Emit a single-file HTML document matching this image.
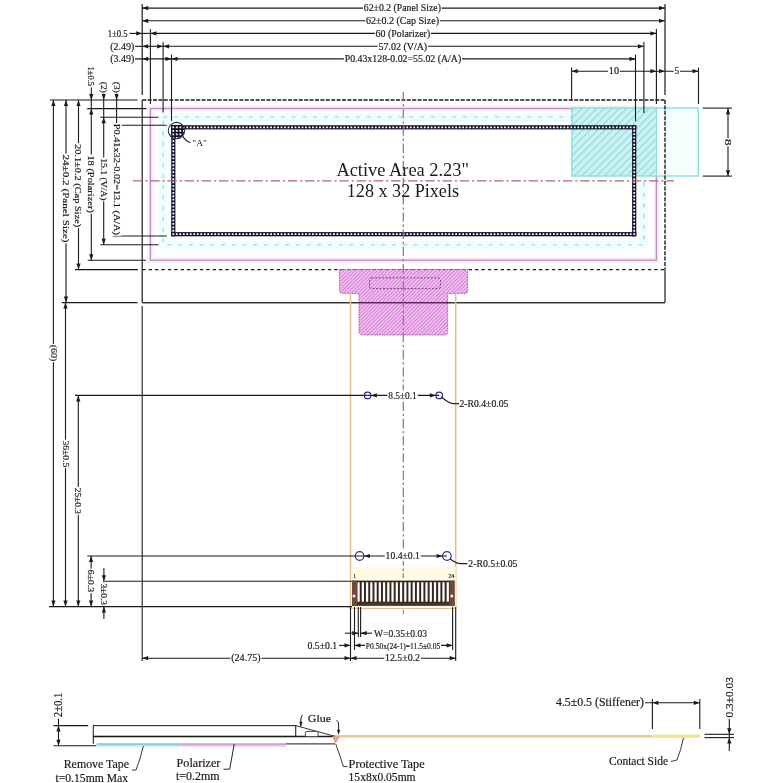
<!DOCTYPE html>
<html><head><meta charset="utf-8"><style>
html,body{margin:0;padding:0;background:#fff;width:783px;height:783px;overflow:hidden;font-family:"Liberation Serif",serif;}
svg{display:block;filter:blur(0.35px);}
</style></head><body>
<svg width="783" height="783" viewBox="0 0 783 783">
<defs>
<pattern id="hatchC" patternUnits="userSpaceOnUse" width="5.3" height="5.3" patternTransform="rotate(45)">
  <rect width="5.3" height="5.3" fill="#c4f4f4"/>
  <line x1="0" y1="0" x2="0" y2="5.3" stroke="#6aa6a6" stroke-width="0.9"/>
</pattern>
<pattern id="hatchM" patternUnits="userSpaceOnUse" width="2.6" height="2.6" patternTransform="rotate(45)">
  <rect width="2.6" height="2.6" fill="#f6bcf6"/>
  <line x1="0" y1="0" x2="0" y2="2.6" stroke="#a444a4" stroke-width="0.9"/>
</pattern>
<pattern id="dotsH" patternUnits="userSpaceOnUse" width="3.5" height="4.2" x="171.2" y="125.2">
  <rect width="3.5" height="4.2" fill="#15153a"/>
  <rect x="1.2" y="1.4" width="1.3" height="1.4" fill="#fff"/>
</pattern>
<pattern id="dotsV" patternUnits="userSpaceOnUse" width="4.2" height="3.5" x="171.2" y="125.2">
  <rect width="4.2" height="3.5" fill="#15153a"/>
  <rect x="1.4" y="1.2" width="1.4" height="1.3" fill="#fff"/>
</pattern>
<pattern id="dotsG" patternUnits="userSpaceOnUse" width="3.5" height="3.5" x="171.2" y="125.2">
  <rect width="3.5" height="3.5" fill="#15153a"/>
  <rect x="1.2" y="1.2" width="1.3" height="1.3" fill="#fff"/>
</pattern>
</defs><rect width="783" height="783" fill="#fff"/><rect x="150.4" y="108.5" width="506.0" height="151.7" fill="none" stroke="#fdeefd" stroke-width="6"/>
<rect x="163.2" y="117" width="480.7" height="127.69999999999999" fill="none" stroke="#effdfd" stroke-width="8"/>
<rect x="150.4" y="108.5" width="506.0" height="151.7" fill="none" stroke="#bb90bb" stroke-width="1.4"/>
<rect x="163.2" y="117" width="480.7" height="127.69999999999999" fill="none" stroke="#9ccfcf" stroke-width="1.1" stroke-dasharray="4 6.7"/>
<rect x="571.8" y="108.0" width="84.70000000000005" height="68.0" stroke="none" fill="url(#hatchC)" stroke-width="1" />
<rect x="656.5" y="108.0" width="41.700000000000045" height="68.0" stroke="none" fill="#f6fdfd" stroke-width="1" />
<rect x="571.8" y="108.0" width="126.40000000000009" height="68.0" fill="none" stroke="#86e2e2" stroke-width="1.4"/>
<line x1="656.5" y1="108" x2="656.5" y2="176" stroke="#8ee0e0" stroke-width="1.1" />
<rect x="171.2" y="125.2" width="465.09999999999997" height="4.2" stroke="none" fill="#121230" stroke-width="1" />
<rect x="171.2" y="232.10000000000002" width="465.09999999999997" height="4.2" stroke="none" fill="#121230" stroke-width="1" />
<rect x="171.2" y="125.2" width="4.2" height="111.10000000000001" stroke="none" fill="#121230" stroke-width="1" />
<rect x="632.0999999999999" y="125.2" width="4.2" height="111.10000000000001" stroke="none" fill="#121230" stroke-width="1" />
<path d="M172.40,126.40h1.8v1.8h-1.8zM172.40,233.30h1.8v1.8h-1.8zM175.89,126.40h1.8v1.8h-1.8zM175.89,233.30h1.8v1.8h-1.8zM179.38,126.40h1.8v1.8h-1.8zM179.38,233.30h1.8v1.8h-1.8zM182.87,126.40h1.8v1.8h-1.8zM182.87,233.30h1.8v1.8h-1.8zM186.37,126.40h1.8v1.8h-1.8zM186.37,233.30h1.8v1.8h-1.8zM189.86,126.40h1.8v1.8h-1.8zM189.86,233.30h1.8v1.8h-1.8zM193.35,126.40h1.8v1.8h-1.8zM193.35,233.30h1.8v1.8h-1.8zM196.84,126.40h1.8v1.8h-1.8zM196.84,233.30h1.8v1.8h-1.8zM200.33,126.40h1.8v1.8h-1.8zM200.33,233.30h1.8v1.8h-1.8zM203.82,126.40h1.8v1.8h-1.8zM203.82,233.30h1.8v1.8h-1.8zM207.32,126.40h1.8v1.8h-1.8zM207.32,233.30h1.8v1.8h-1.8zM210.81,126.40h1.8v1.8h-1.8zM210.81,233.30h1.8v1.8h-1.8zM214.30,126.40h1.8v1.8h-1.8zM214.30,233.30h1.8v1.8h-1.8zM217.79,126.40h1.8v1.8h-1.8zM217.79,233.30h1.8v1.8h-1.8zM221.28,126.40h1.8v1.8h-1.8zM221.28,233.30h1.8v1.8h-1.8zM224.77,126.40h1.8v1.8h-1.8zM224.77,233.30h1.8v1.8h-1.8zM228.27,126.40h1.8v1.8h-1.8zM228.27,233.30h1.8v1.8h-1.8zM231.76,126.40h1.8v1.8h-1.8zM231.76,233.30h1.8v1.8h-1.8zM235.25,126.40h1.8v1.8h-1.8zM235.25,233.30h1.8v1.8h-1.8zM238.74,126.40h1.8v1.8h-1.8zM238.74,233.30h1.8v1.8h-1.8zM242.23,126.40h1.8v1.8h-1.8zM242.23,233.30h1.8v1.8h-1.8zM245.72,126.40h1.8v1.8h-1.8zM245.72,233.30h1.8v1.8h-1.8zM249.22,126.40h1.8v1.8h-1.8zM249.22,233.30h1.8v1.8h-1.8zM252.71,126.40h1.8v1.8h-1.8zM252.71,233.30h1.8v1.8h-1.8zM256.20,126.40h1.8v1.8h-1.8zM256.20,233.30h1.8v1.8h-1.8zM259.69,126.40h1.8v1.8h-1.8zM259.69,233.30h1.8v1.8h-1.8zM263.18,126.40h1.8v1.8h-1.8zM263.18,233.30h1.8v1.8h-1.8zM266.68,126.40h1.8v1.8h-1.8zM266.68,233.30h1.8v1.8h-1.8zM270.17,126.40h1.8v1.8h-1.8zM270.17,233.30h1.8v1.8h-1.8zM273.66,126.40h1.8v1.8h-1.8zM273.66,233.30h1.8v1.8h-1.8zM277.15,126.40h1.8v1.8h-1.8zM277.15,233.30h1.8v1.8h-1.8zM280.64,126.40h1.8v1.8h-1.8zM280.64,233.30h1.8v1.8h-1.8zM284.13,126.40h1.8v1.8h-1.8zM284.13,233.30h1.8v1.8h-1.8zM287.62,126.40h1.8v1.8h-1.8zM287.62,233.30h1.8v1.8h-1.8zM291.12,126.40h1.8v1.8h-1.8zM291.12,233.30h1.8v1.8h-1.8zM294.61,126.40h1.8v1.8h-1.8zM294.61,233.30h1.8v1.8h-1.8zM298.10,126.40h1.8v1.8h-1.8zM298.10,233.30h1.8v1.8h-1.8zM301.59,126.40h1.8v1.8h-1.8zM301.59,233.30h1.8v1.8h-1.8zM305.08,126.40h1.8v1.8h-1.8zM305.08,233.30h1.8v1.8h-1.8zM308.58,126.40h1.8v1.8h-1.8zM308.58,233.30h1.8v1.8h-1.8zM312.07,126.40h1.8v1.8h-1.8zM312.07,233.30h1.8v1.8h-1.8zM315.56,126.40h1.8v1.8h-1.8zM315.56,233.30h1.8v1.8h-1.8zM319.05,126.40h1.8v1.8h-1.8zM319.05,233.30h1.8v1.8h-1.8zM322.54,126.40h1.8v1.8h-1.8zM322.54,233.30h1.8v1.8h-1.8zM326.03,126.40h1.8v1.8h-1.8zM326.03,233.30h1.8v1.8h-1.8zM329.52,126.40h1.8v1.8h-1.8zM329.52,233.30h1.8v1.8h-1.8zM333.02,126.40h1.8v1.8h-1.8zM333.02,233.30h1.8v1.8h-1.8zM336.51,126.40h1.8v1.8h-1.8zM336.51,233.30h1.8v1.8h-1.8zM340.00,126.40h1.8v1.8h-1.8zM340.00,233.30h1.8v1.8h-1.8zM343.49,126.40h1.8v1.8h-1.8zM343.49,233.30h1.8v1.8h-1.8zM346.98,126.40h1.8v1.8h-1.8zM346.98,233.30h1.8v1.8h-1.8zM350.48,126.40h1.8v1.8h-1.8zM350.48,233.30h1.8v1.8h-1.8zM353.97,126.40h1.8v1.8h-1.8zM353.97,233.30h1.8v1.8h-1.8zM357.46,126.40h1.8v1.8h-1.8zM357.46,233.30h1.8v1.8h-1.8zM360.95,126.40h1.8v1.8h-1.8zM360.95,233.30h1.8v1.8h-1.8zM364.44,126.40h1.8v1.8h-1.8zM364.44,233.30h1.8v1.8h-1.8zM367.93,126.40h1.8v1.8h-1.8zM367.93,233.30h1.8v1.8h-1.8zM371.43,126.40h1.8v1.8h-1.8zM371.43,233.30h1.8v1.8h-1.8zM374.92,126.40h1.8v1.8h-1.8zM374.92,233.30h1.8v1.8h-1.8zM378.41,126.40h1.8v1.8h-1.8zM378.41,233.30h1.8v1.8h-1.8zM381.90,126.40h1.8v1.8h-1.8zM381.90,233.30h1.8v1.8h-1.8zM385.39,126.40h1.8v1.8h-1.8zM385.39,233.30h1.8v1.8h-1.8zM388.88,126.40h1.8v1.8h-1.8zM388.88,233.30h1.8v1.8h-1.8zM392.38,126.40h1.8v1.8h-1.8zM392.38,233.30h1.8v1.8h-1.8zM395.87,126.40h1.8v1.8h-1.8zM395.87,233.30h1.8v1.8h-1.8zM399.36,126.40h1.8v1.8h-1.8zM399.36,233.30h1.8v1.8h-1.8zM402.85,126.40h1.8v1.8h-1.8zM402.85,233.30h1.8v1.8h-1.8zM406.34,126.40h1.8v1.8h-1.8zM406.34,233.30h1.8v1.8h-1.8zM409.83,126.40h1.8v1.8h-1.8zM409.83,233.30h1.8v1.8h-1.8zM413.33,126.40h1.8v1.8h-1.8zM413.33,233.30h1.8v1.8h-1.8zM416.82,126.40h1.8v1.8h-1.8zM416.82,233.30h1.8v1.8h-1.8zM420.31,126.40h1.8v1.8h-1.8zM420.31,233.30h1.8v1.8h-1.8zM423.80,126.40h1.8v1.8h-1.8zM423.80,233.30h1.8v1.8h-1.8zM427.29,126.40h1.8v1.8h-1.8zM427.29,233.30h1.8v1.8h-1.8zM430.78,126.40h1.8v1.8h-1.8zM430.78,233.30h1.8v1.8h-1.8zM434.27,126.40h1.8v1.8h-1.8zM434.27,233.30h1.8v1.8h-1.8zM437.77,126.40h1.8v1.8h-1.8zM437.77,233.30h1.8v1.8h-1.8zM441.26,126.40h1.8v1.8h-1.8zM441.26,233.30h1.8v1.8h-1.8zM444.75,126.40h1.8v1.8h-1.8zM444.75,233.30h1.8v1.8h-1.8zM448.24,126.40h1.8v1.8h-1.8zM448.24,233.30h1.8v1.8h-1.8zM451.73,126.40h1.8v1.8h-1.8zM451.73,233.30h1.8v1.8h-1.8zM455.23,126.40h1.8v1.8h-1.8zM455.23,233.30h1.8v1.8h-1.8zM458.72,126.40h1.8v1.8h-1.8zM458.72,233.30h1.8v1.8h-1.8zM462.21,126.40h1.8v1.8h-1.8zM462.21,233.30h1.8v1.8h-1.8zM465.70,126.40h1.8v1.8h-1.8zM465.70,233.30h1.8v1.8h-1.8zM469.19,126.40h1.8v1.8h-1.8zM469.19,233.30h1.8v1.8h-1.8zM472.68,126.40h1.8v1.8h-1.8zM472.68,233.30h1.8v1.8h-1.8zM476.17,126.40h1.8v1.8h-1.8zM476.17,233.30h1.8v1.8h-1.8zM479.67,126.40h1.8v1.8h-1.8zM479.67,233.30h1.8v1.8h-1.8zM483.16,126.40h1.8v1.8h-1.8zM483.16,233.30h1.8v1.8h-1.8zM486.65,126.40h1.8v1.8h-1.8zM486.65,233.30h1.8v1.8h-1.8zM490.14,126.40h1.8v1.8h-1.8zM490.14,233.30h1.8v1.8h-1.8zM493.63,126.40h1.8v1.8h-1.8zM493.63,233.30h1.8v1.8h-1.8zM497.12,126.40h1.8v1.8h-1.8zM497.12,233.30h1.8v1.8h-1.8zM500.62,126.40h1.8v1.8h-1.8zM500.62,233.30h1.8v1.8h-1.8zM504.11,126.40h1.8v1.8h-1.8zM504.11,233.30h1.8v1.8h-1.8zM507.60,126.40h1.8v1.8h-1.8zM507.60,233.30h1.8v1.8h-1.8zM511.09,126.40h1.8v1.8h-1.8zM511.09,233.30h1.8v1.8h-1.8zM514.58,126.40h1.8v1.8h-1.8zM514.58,233.30h1.8v1.8h-1.8zM518.08,126.40h1.8v1.8h-1.8zM518.08,233.30h1.8v1.8h-1.8zM521.57,126.40h1.8v1.8h-1.8zM521.57,233.30h1.8v1.8h-1.8zM525.06,126.40h1.8v1.8h-1.8zM525.06,233.30h1.8v1.8h-1.8zM528.55,126.40h1.8v1.8h-1.8zM528.55,233.30h1.8v1.8h-1.8zM532.04,126.40h1.8v1.8h-1.8zM532.04,233.30h1.8v1.8h-1.8zM535.53,126.40h1.8v1.8h-1.8zM535.53,233.30h1.8v1.8h-1.8zM539.02,126.40h1.8v1.8h-1.8zM539.02,233.30h1.8v1.8h-1.8zM542.52,126.40h1.8v1.8h-1.8zM542.52,233.30h1.8v1.8h-1.8zM546.01,126.40h1.8v1.8h-1.8zM546.01,233.30h1.8v1.8h-1.8zM549.50,126.40h1.8v1.8h-1.8zM549.50,233.30h1.8v1.8h-1.8zM552.99,126.40h1.8v1.8h-1.8zM552.99,233.30h1.8v1.8h-1.8zM556.48,126.40h1.8v1.8h-1.8zM556.48,233.30h1.8v1.8h-1.8zM559.98,126.40h1.8v1.8h-1.8zM559.98,233.30h1.8v1.8h-1.8zM563.47,126.40h1.8v1.8h-1.8zM563.47,233.30h1.8v1.8h-1.8zM566.96,126.40h1.8v1.8h-1.8zM566.96,233.30h1.8v1.8h-1.8zM570.45,126.40h1.8v1.8h-1.8zM570.45,233.30h1.8v1.8h-1.8zM573.94,126.40h1.8v1.8h-1.8zM573.94,233.30h1.8v1.8h-1.8zM577.43,126.40h1.8v1.8h-1.8zM577.43,233.30h1.8v1.8h-1.8zM580.92,126.40h1.8v1.8h-1.8zM580.92,233.30h1.8v1.8h-1.8zM584.42,126.40h1.8v1.8h-1.8zM584.42,233.30h1.8v1.8h-1.8zM587.91,126.40h1.8v1.8h-1.8zM587.91,233.30h1.8v1.8h-1.8zM591.40,126.40h1.8v1.8h-1.8zM591.40,233.30h1.8v1.8h-1.8zM594.89,126.40h1.8v1.8h-1.8zM594.89,233.30h1.8v1.8h-1.8zM598.38,126.40h1.8v1.8h-1.8zM598.38,233.30h1.8v1.8h-1.8zM601.88,126.40h1.8v1.8h-1.8zM601.88,233.30h1.8v1.8h-1.8zM605.37,126.40h1.8v1.8h-1.8zM605.37,233.30h1.8v1.8h-1.8zM608.86,126.40h1.8v1.8h-1.8zM608.86,233.30h1.8v1.8h-1.8zM612.35,126.40h1.8v1.8h-1.8zM612.35,233.30h1.8v1.8h-1.8zM615.84,126.40h1.8v1.8h-1.8zM615.84,233.30h1.8v1.8h-1.8zM619.33,126.40h1.8v1.8h-1.8zM619.33,233.30h1.8v1.8h-1.8zM622.83,126.40h1.8v1.8h-1.8zM622.83,233.30h1.8v1.8h-1.8zM626.32,126.40h1.8v1.8h-1.8zM626.32,233.30h1.8v1.8h-1.8zM629.81,126.40h1.8v1.8h-1.8zM629.81,233.30h1.8v1.8h-1.8zM633.30,126.40h1.8v1.8h-1.8zM633.30,233.30h1.8v1.8h-1.8zM172.40,129.85h1.8v1.8h-1.8zM633.30,129.85h1.8v1.8h-1.8zM172.40,133.30h1.8v1.8h-1.8zM633.30,133.30h1.8v1.8h-1.8zM172.40,136.75h1.8v1.8h-1.8zM633.30,136.75h1.8v1.8h-1.8zM172.40,140.19h1.8v1.8h-1.8zM633.30,140.19h1.8v1.8h-1.8zM172.40,143.64h1.8v1.8h-1.8zM633.30,143.64h1.8v1.8h-1.8zM172.40,147.09h1.8v1.8h-1.8zM633.30,147.09h1.8v1.8h-1.8zM172.40,150.54h1.8v1.8h-1.8zM633.30,150.54h1.8v1.8h-1.8zM172.40,153.99h1.8v1.8h-1.8zM633.30,153.99h1.8v1.8h-1.8zM172.40,157.44h1.8v1.8h-1.8zM633.30,157.44h1.8v1.8h-1.8zM172.40,160.88h1.8v1.8h-1.8zM633.30,160.88h1.8v1.8h-1.8zM172.40,164.33h1.8v1.8h-1.8zM633.30,164.33h1.8v1.8h-1.8zM172.40,167.78h1.8v1.8h-1.8zM633.30,167.78h1.8v1.8h-1.8zM172.40,171.23h1.8v1.8h-1.8zM633.30,171.23h1.8v1.8h-1.8zM172.40,174.68h1.8v1.8h-1.8zM633.30,174.68h1.8v1.8h-1.8zM172.40,178.13h1.8v1.8h-1.8zM633.30,178.13h1.8v1.8h-1.8zM172.40,181.57h1.8v1.8h-1.8zM633.30,181.57h1.8v1.8h-1.8zM172.40,185.02h1.8v1.8h-1.8zM633.30,185.02h1.8v1.8h-1.8zM172.40,188.47h1.8v1.8h-1.8zM633.30,188.47h1.8v1.8h-1.8zM172.40,191.92h1.8v1.8h-1.8zM633.30,191.92h1.8v1.8h-1.8zM172.40,195.37h1.8v1.8h-1.8zM633.30,195.37h1.8v1.8h-1.8zM172.40,198.82h1.8v1.8h-1.8zM633.30,198.82h1.8v1.8h-1.8zM172.40,202.26h1.8v1.8h-1.8zM633.30,202.26h1.8v1.8h-1.8zM172.40,205.71h1.8v1.8h-1.8zM633.30,205.71h1.8v1.8h-1.8zM172.40,209.16h1.8v1.8h-1.8zM633.30,209.16h1.8v1.8h-1.8zM172.40,212.61h1.8v1.8h-1.8zM633.30,212.61h1.8v1.8h-1.8zM172.40,216.06h1.8v1.8h-1.8zM633.30,216.06h1.8v1.8h-1.8zM172.40,219.51h1.8v1.8h-1.8zM633.30,219.51h1.8v1.8h-1.8zM172.40,222.95h1.8v1.8h-1.8zM633.30,222.95h1.8v1.8h-1.8zM172.40,226.40h1.8v1.8h-1.8zM633.30,226.40h1.8v1.8h-1.8zM172.40,229.85h1.8v1.8h-1.8zM633.30,229.85h1.8v1.8h-1.8z" fill="#fff"/>
<clipPath id="cA"><circle cx="176.5" cy="130.6" r="8"/></clipPath>
<g clip-path="url(#cA)"><rect x="171.2" y="125.2" width="16" height="16" fill="#121230"/><path d="M172.40,126.40h1.8v1.8h-1.8zM172.40,129.90h1.8v1.8h-1.8zM172.40,133.40h1.8v1.8h-1.8zM172.40,136.90h1.8v1.8h-1.8zM172.40,140.40h1.8v1.8h-1.8zM175.90,126.40h1.8v1.8h-1.8zM175.90,129.90h1.8v1.8h-1.8zM175.90,133.40h1.8v1.8h-1.8zM175.90,136.90h1.8v1.8h-1.8zM175.90,140.40h1.8v1.8h-1.8zM179.40,126.40h1.8v1.8h-1.8zM179.40,129.90h1.8v1.8h-1.8zM179.40,133.40h1.8v1.8h-1.8zM179.40,136.90h1.8v1.8h-1.8zM179.40,140.40h1.8v1.8h-1.8zM182.90,126.40h1.8v1.8h-1.8zM182.90,129.90h1.8v1.8h-1.8zM182.90,133.40h1.8v1.8h-1.8zM182.90,136.90h1.8v1.8h-1.8zM182.90,140.40h1.8v1.8h-1.8zM186.40,126.40h1.8v1.8h-1.8zM186.40,129.90h1.8v1.8h-1.8zM186.40,133.40h1.8v1.8h-1.8zM186.40,136.90h1.8v1.8h-1.8zM186.40,140.40h1.8v1.8h-1.8z" fill="#fff"/></g>
<circle cx="176.5" cy="130.6" r="8.2" fill="none" stroke="#2a2a5a" stroke-width="1.1"/>
<path d="M182.8,136.4 Q186,141.3 190.5,142.8" fill="none" stroke="#222" stroke-width="1.1"/>
<text x="192.3" y="145.5" font-family="Liberation Serif" font-size="8.5" fill="#1a1a1a" stroke="#1a1a1a" stroke-width="0" text-anchor="start" textLength="14.5" lengthAdjust="spacingAndGlyphs" >"A"</text>
<line x1="142.2" y1="100" x2="142.2" y2="302.6" stroke="#1a1a1a" stroke-width="1.2" />
<line x1="142.2" y1="302.6" x2="665" y2="302.6" stroke="#1a1a1a" stroke-width="1.2" />
<line x1="665" y1="269.6" x2="665" y2="302.6" stroke="#1a1a1a" stroke-width="1.2" />
<line x1="142.2" y1="100" x2="665" y2="100" stroke="#1a1a1a" stroke-width="1.4" stroke-dasharray="4 1.4"/>
<line x1="665" y1="100" x2="665" y2="269.6" stroke="#1a1a1a" stroke-width="1.4" stroke-dasharray="4 1.4"/>
<line x1="142.2" y1="269.6" x2="665" y2="269.6" stroke="#1a1a1a" stroke-width="1.3" stroke-dasharray="3.4 3"/>
<path d="M339.5,269.6 L467.6,269.6 L467.6,290.5 Q467.6,293.4 464.5,293.4 L447.7,293.4 L447.7,331.5 Q447.7,335 444,335 L362.5,335 Q359,335 359,331.5 L359,293.4 L342.5,293.4 Q339.5,293.4 339.5,290.5 Z" fill="url(#hatchM)" stroke="#9a3a9a" stroke-width="0.8" stroke-dasharray="1.5 1"/>
<rect x="369.5" y="277.8" width="71" height="10.8" rx="2" fill="none" stroke="#6a2a6a" stroke-width="0.8" stroke-dasharray="2 1.5"/>
<line x1="142.2" y1="302.6" x2="665" y2="302.6" stroke="#333" stroke-width="1.1" />
<line x1="359" y1="302.6" x2="447.7" y2="302.6" stroke="#5a255a" stroke-width="1.3" />
<line x1="350.5" y1="293.4" x2="350.5" y2="608.5" stroke="#e4bf8e" stroke-width="1.5" />
<line x1="455.7" y1="293.4" x2="455.7" y2="608.5" stroke="#e4bf8e" stroke-width="1.5" />
<rect x="351.2" y="567" width="104.5" height="41.5" stroke="none" fill="#fffbe2" stroke-width="1" />
<line x1="350.5" y1="608.5" x2="455.7" y2="608.5" stroke="#e4bf8e" stroke-width="1" />
<line x1="403.3" y1="92" x2="403.3" y2="578" stroke="#b06672" stroke-width="1.2" stroke-dasharray="9.4 2.8 2.3 2.7"/>
<line x1="403.3" y1="609.5" x2="403.3" y2="614.5" stroke="#b06672" stroke-width="0.9" />
<line x1="133" y1="180.8" x2="674" y2="180.8" stroke="#b06672" stroke-width="1.2" stroke-dasharray="9.4 2.8 2.3 2.7"/>
<text x="336.4" y="176.3" font-family="Liberation Serif" font-size="18.2" fill="#1a1a1a" stroke="#1a1a1a" stroke-width="0" text-anchor="start" textLength="132.6" lengthAdjust="spacingAndGlyphs" >Active Area 2.23"</text>
<text x="346.8" y="197" font-family="Liberation Serif" font-size="18.2" fill="#1a1a1a" stroke="#1a1a1a" stroke-width="0" text-anchor="start" textLength="112.2" lengthAdjust="spacingAndGlyphs" >128 x 32 Pixels</text>
<rect x="352" y="580.6" width="102.5" height="25.0" stroke="none" fill="#33241d" stroke-width="1" />
<path d="M357.45,582.2h2.3v19.10q-1.15,1.2 -2.3,0zM361.70,582.2h2.3v19.10q-1.15,1.2 -2.3,0zM365.94,582.2h2.3v19.10q-1.15,1.2 -2.3,0zM370.19,582.2h2.3v19.10q-1.15,1.2 -2.3,0zM374.43,582.2h2.3v19.10q-1.15,1.2 -2.3,0zM378.68,582.2h2.3v19.10q-1.15,1.2 -2.3,0zM382.92,582.2h2.3v19.10q-1.15,1.2 -2.3,0zM387.17,582.2h2.3v19.10q-1.15,1.2 -2.3,0zM391.41,582.2h2.3v19.10q-1.15,1.2 -2.3,0zM395.66,582.2h2.3v19.10q-1.15,1.2 -2.3,0zM399.90,582.2h2.3v19.10q-1.15,1.2 -2.3,0zM404.15,582.2h2.3v19.10q-1.15,1.2 -2.3,0zM408.39,582.2h2.3v19.10q-1.15,1.2 -2.3,0zM412.64,582.2h2.3v19.10q-1.15,1.2 -2.3,0zM416.88,582.2h2.3v19.10q-1.15,1.2 -2.3,0zM421.13,582.2h2.3v19.10q-1.15,1.2 -2.3,0zM425.37,582.2h2.3v19.10q-1.15,1.2 -2.3,0zM429.62,582.2h2.3v19.10q-1.15,1.2 -2.3,0zM433.86,582.2h2.3v19.10q-1.15,1.2 -2.3,0zM438.11,582.2h2.3v19.10q-1.15,1.2 -2.3,0zM442.35,582.2h2.3v19.10q-1.15,1.2 -2.3,0zM446.60,582.2h2.3v19.10q-1.15,1.2 -2.3,0z" fill="#fbfbfb"/>
<rect x="352" y="602.3000000000001" width="102.5" height="3.3" stroke="none" fill="#4a3126" stroke-width="1" />
<rect x="352" y="580.6" width="5" height="25.0" stroke="none" fill="#6e4a3a" stroke-width="1" />
<rect x="449.5" y="580.6" width="5" height="25.0" stroke="none" fill="#6e4a3a" stroke-width="1" />
<circle cx="354" cy="596" r="1.5" fill="#f4eee8"/>
<circle cx="451.8" cy="596" r="1.5" fill="#f4eee8"/>
<text x="353.3" y="578" font-family="Liberation Serif" font-size="5.5" fill="#1a1a1a" stroke="#1a1a1a" stroke-width="0.18" text-anchor="start" textLength="2.5" lengthAdjust="spacingAndGlyphs" >1</text>
<text x="448.5" y="578" font-family="Liberation Serif" font-size="5.5" fill="#1a1a1a" stroke="#1a1a1a" stroke-width="0.18" text-anchor="start" textLength="6" lengthAdjust="spacingAndGlyphs" >24</text>
<line x1="142.2" y1="4" x2="142.2" y2="95" stroke="#1a1a1a" stroke-width="1.2" />
<line x1="150.4" y1="29" x2="150.4" y2="104" stroke="#1a1a1a" stroke-width="1.1" />
<line x1="163.1" y1="41.9" x2="163.1" y2="112.5" stroke="#1a1a1a" stroke-width="1.1" />
<line x1="171.5" y1="54.6" x2="171.5" y2="120.8" stroke="#1a1a1a" stroke-width="1.1" />
<line x1="665" y1="4" x2="665" y2="95" stroke="#1a1a1a" stroke-width="1.2" />
<line x1="656.4" y1="29" x2="656.4" y2="104" stroke="#1a1a1a" stroke-width="1.1" />
<line x1="643.9" y1="41.9" x2="643.9" y2="113" stroke="#1a1a1a" stroke-width="1.1" />
<line x1="635.5" y1="54.6" x2="635.5" y2="121" stroke="#1a1a1a" stroke-width="1.1" />
<line x1="142.2" y1="8.1" x2="665" y2="8.1" stroke="#1a1a1a" stroke-width="1.1" />
<polygon points="142.2,8.1 148.2,6.0 148.2,10.2" fill="#1a1a1a"/>
<polygon points="665.0,8.1 659.0,6.0 659.0,10.2" fill="#1a1a1a"/>
<rect x="363.0" y="3.0999999999999996" width="78.69999999999996" height="10" fill="#fff"/>
<text x="363.8" y="11.3" font-family="Liberation Serif" font-size="9.5" fill="#1a1a1a" stroke="#1a1a1a" stroke-width="0.18" text-anchor="start" textLength="77.1" lengthAdjust="spacingAndGlyphs" >62±0.2 (Panel Size)</text>
<line x1="142.2" y1="20.8" x2="665" y2="20.8" stroke="#1a1a1a" stroke-width="1.1" />
<polygon points="142.2,20.8 148.2,18.7 148.2,22.9" fill="#1a1a1a"/>
<polygon points="665.0,20.8 659.0,18.7 659.0,22.9" fill="#1a1a1a"/>
<rect x="365.2" y="15.8" width="74.6" height="10" fill="#fff"/>
<text x="366" y="24.0" font-family="Liberation Serif" font-size="9.5" fill="#1a1a1a" stroke="#1a1a1a" stroke-width="0.18" text-anchor="start" textLength="73" lengthAdjust="spacingAndGlyphs" >62±0.2 (Cap Size)</text>
<line x1="150.4" y1="33.4" x2="656.4" y2="33.4" stroke="#1a1a1a" stroke-width="1.1" />
<polygon points="150.4,33.4 156.4,31.3 156.4,35.5" fill="#1a1a1a"/>
<polygon points="656.4,33.4 650.4,31.3 650.4,35.5" fill="#1a1a1a"/>
<rect x="374.8" y="28.4" width="56.19999999999997" height="10" fill="#fff"/>
<text x="375.6" y="36.6" font-family="Liberation Serif" font-size="9.5" fill="#1a1a1a" stroke="#1a1a1a" stroke-width="0.18" text-anchor="start" textLength="54.6" lengthAdjust="spacingAndGlyphs" >60 (Polarizer)</text>
<line x1="163.1" y1="46.3" x2="643.9" y2="46.3" stroke="#1a1a1a" stroke-width="1.1" />
<polygon points="163.1,46.3 169.1,44.2 169.1,48.4" fill="#1a1a1a"/>
<polygon points="643.9,46.3 637.9,44.2 637.9,48.4" fill="#1a1a1a"/>
<rect x="377.7" y="41.3" width="50.29999999999999" height="10" fill="#fff"/>
<text x="378.5" y="49.5" font-family="Liberation Serif" font-size="9.5" fill="#1a1a1a" stroke="#1a1a1a" stroke-width="0.18" text-anchor="start" textLength="48.7" lengthAdjust="spacingAndGlyphs" >57.02 (V/A)</text>
<line x1="171.5" y1="58.9" x2="635.5" y2="58.9" stroke="#1a1a1a" stroke-width="1.1" />
<polygon points="171.5,58.9 177.5,56.8 177.5,61.0" fill="#1a1a1a"/>
<polygon points="635.5,58.9 629.5,56.8 629.5,61.0" fill="#1a1a1a"/>
<rect x="343.9" y="53.9" width="118.1" height="10" fill="#fff"/>
<text x="344.7" y="62.1" font-family="Liberation Serif" font-size="9.5" fill="#1a1a1a" stroke="#1a1a1a" stroke-width="0.18" text-anchor="start" textLength="116.5" lengthAdjust="spacingAndGlyphs" >P0.43x128-0.02=55.02 (A/A)</text>
<line x1="129.5" y1="33.4" x2="150.4" y2="33.4" stroke="#1a1a1a" stroke-width="1.1" />
<polygon points="142.2,33.4 136.2,31.3 136.2,35.5" fill="#1a1a1a"/>
<rect x="106.9" y="28.4" width="21.499999999999993" height="10" fill="#fff"/>
<text x="107.7" y="36.6" font-family="Liberation Serif" font-size="9.5" fill="#1a1a1a" stroke="#1a1a1a" stroke-width="0.18" text-anchor="start" textLength="19.9" lengthAdjust="spacingAndGlyphs" >1±0.5</text>
<line x1="134.5" y1="46.3" x2="163.1" y2="46.3" stroke="#1a1a1a" stroke-width="1.1" />
<polygon points="142.2,46.3 148.2,44.2 148.2,48.4" fill="#1a1a1a"/>
<polygon points="163.1,46.3 157.1,44.2 157.1,48.4" fill="#1a1a1a"/>
<rect x="109.4" y="41.3" width="25.599999999999987" height="10" fill="#fff"/>
<text x="110.2" y="49.5" font-family="Liberation Serif" font-size="9.5" fill="#1a1a1a" stroke="#1a1a1a" stroke-width="0.18" text-anchor="start" textLength="24.0" lengthAdjust="spacingAndGlyphs" >(2.49)</text>
<line x1="134.5" y1="58.9" x2="171.5" y2="58.9" stroke="#1a1a1a" stroke-width="1.1" />
<polygon points="142.2,58.9 148.2,56.8 148.2,61.0" fill="#1a1a1a"/>
<polygon points="171.5,58.9 165.5,56.8 165.5,61.0" fill="#1a1a1a"/>
<rect x="109.4" y="53.9" width="25.599999999999987" height="10" fill="#fff"/>
<text x="110.2" y="62.1" font-family="Liberation Serif" font-size="9.5" fill="#1a1a1a" stroke="#1a1a1a" stroke-width="0.18" text-anchor="start" textLength="24.0" lengthAdjust="spacingAndGlyphs" >(3.49)</text>
<line x1="571.6" y1="67.6" x2="571.6" y2="101" stroke="#1a1a1a" stroke-width="1.1" />
<line x1="698.5" y1="67.6" x2="698.5" y2="104" stroke="#1a1a1a" stroke-width="1.1" />
<line x1="571.6" y1="71.2" x2="698.5" y2="71.2" stroke="#1a1a1a" stroke-width="1.1" />
<polygon points="571.6,71.2 577.6,69.1 577.6,73.3" fill="#1a1a1a"/>
<polygon points="656.4,71.2 650.4,69.1 650.4,73.3" fill="#1a1a1a"/>
<polygon points="665.0,71.2 659.0,69.1 659.0,73.3" fill="#1a1a1a"/>
<polygon points="698.5,71.2 692.5,69.1 692.5,73.3" fill="#1a1a1a"/>
<rect x="608.0" y="66.2" width="11.800000000000045" height="10" fill="#fff"/>
<text x="608.8" y="74.4" font-family="Liberation Serif" font-size="9.5" fill="#1a1a1a" stroke="#1a1a1a" stroke-width="0.18" text-anchor="start" textLength="10.2" lengthAdjust="spacingAndGlyphs" >10</text>
<rect x="673.7" y="66.2" width="6.300000000000045" height="10" fill="#fff"/>
<text x="674.5" y="74.4" font-family="Liberation Serif" font-size="9.5" fill="#1a1a1a" stroke="#1a1a1a" stroke-width="0.18" text-anchor="start" textLength="4.7" lengthAdjust="spacingAndGlyphs" >5</text>
<line x1="702.7" y1="108.1" x2="732" y2="108.1" stroke="#1a1a1a" stroke-width="1.1" />
<line x1="702.7" y1="176.1" x2="732" y2="176.1" stroke="#1a1a1a" stroke-width="1.1" />
<line x1="728" y1="108.2" x2="728" y2="176.3" stroke="#1a1a1a" stroke-width="1.1" />
<polygon points="728.0,108.2 725.9,114.2 730.1,114.2" fill="#1a1a1a"/>
<polygon points="728.0,176.3 725.9,170.3 730.1,170.3" fill="#1a1a1a"/>
<rect x="723" y="138.2" width="10" height="8.1" fill="#fff"/>
<text x="725.36" y="139" font-family="Liberation Serif" font-size="8" fill="#1a1a1a" stroke="#1a1a1a" stroke-width="0.18" text-anchor="start" textLength="6.5" lengthAdjust="spacingAndGlyphs" transform="rotate(90 725.36 139)" >8</text>
<line x1="50" y1="100" x2="137.5" y2="100" stroke="#1a1a1a" stroke-width="1.1" />
<line x1="87.2" y1="108.6" x2="146.5" y2="108.6" stroke="#1a1a1a" stroke-width="1.1" />
<line x1="100.2" y1="117.2" x2="158.5" y2="117.2" stroke="#1a1a1a" stroke-width="1.1" />
<line x1="112.6" y1="125.3" x2="166.7" y2="125.3" stroke="#1a1a1a" stroke-width="1.1" />
<line x1="112.8" y1="236" x2="166.7" y2="236" stroke="#1a1a1a" stroke-width="1.1" />
<line x1="100.5" y1="244.7" x2="158.6" y2="244.7" stroke="#1a1a1a" stroke-width="1.1" />
<line x1="87.8" y1="260.3" x2="146" y2="260.3" stroke="#1a1a1a" stroke-width="1.1" />
<line x1="75" y1="269.6" x2="138" y2="269.6" stroke="#1a1a1a" stroke-width="1.1" />
<line x1="61.7" y1="302.6" x2="137.5" y2="302.6" stroke="#1a1a1a" stroke-width="1.1" />
<line x1="91.3" y1="87.6" x2="91.3" y2="260.3" stroke="#1a1a1a" stroke-width="1.1" />
<polygon points="91.3,100.0 89.2,94.0 93.4,94.0" fill="#1a1a1a"/>
<polygon points="91.3,108.6 89.2,114.6 93.4,114.6" fill="#1a1a1a"/>
<rect x="86.3" y="65.7" width="10" height="21.199999999999996" fill="#fff"/>
<text x="88.462" y="66.5" font-family="Liberation Serif" font-size="8.6" fill="#1a1a1a" stroke="#1a1a1a" stroke-width="0.18" text-anchor="start" textLength="19.6" lengthAdjust="spacingAndGlyphs" transform="rotate(90 88.462 66.5)" >1±0.5</text>
<line x1="103.7" y1="93" x2="103.7" y2="244.7" stroke="#1a1a1a" stroke-width="1.1" />
<polygon points="103.7,100.0 101.6,94.0 105.8,94.0" fill="#1a1a1a"/>
<polygon points="103.7,117.2 101.6,123.2 105.8,123.2" fill="#1a1a1a"/>
<rect x="98.7" y="81.0" width="10" height="12.6" fill="#fff"/>
<text x="100.86200000000001" y="81.8" font-family="Liberation Serif" font-size="8.6" fill="#1a1a1a" stroke="#1a1a1a" stroke-width="0.18" text-anchor="start" textLength="11.0" lengthAdjust="spacingAndGlyphs" transform="rotate(90 100.86200000000001 81.8)" >(2)</text>
<line x1="116.6" y1="93" x2="116.6" y2="236" stroke="#1a1a1a" stroke-width="1.1" />
<polygon points="116.6,100.0 114.5,94.0 118.7,94.0" fill="#1a1a1a"/>
<polygon points="116.6,125.3 114.5,131.3 118.7,131.3" fill="#1a1a1a"/>
<rect x="111.6" y="81.0" width="10" height="12.6" fill="#fff"/>
<text x="113.762" y="81.8" font-family="Liberation Serif" font-size="8.6" fill="#1a1a1a" stroke="#1a1a1a" stroke-width="0.18" text-anchor="start" textLength="11.0" lengthAdjust="spacingAndGlyphs" transform="rotate(90 113.762 81.8)" >(3)</text>
<line x1="53.4" y1="100" x2="53.4" y2="606.4" stroke="#1a1a1a" stroke-width="1.1" />
<polygon points="53.4,100.0 51.3,106.0 55.5,106.0" fill="#1a1a1a"/>
<polygon points="53.4,606.4 51.3,600.4 55.5,600.4" fill="#1a1a1a"/>
<rect x="48.4" y="343.9" width="10" height="18.200000000000024" fill="#fff"/>
<text x="50.562" y="344.7" font-family="Liberation Serif" font-size="8.6" fill="#1a1a1a" stroke="#1a1a1a" stroke-width="0.18" text-anchor="start" textLength="16.6" lengthAdjust="spacingAndGlyphs" transform="rotate(90 50.562 344.7)" >(60)</text>
<line x1="66" y1="100" x2="66" y2="302.6" stroke="#1a1a1a" stroke-width="1.1" />
<polygon points="66.0,100.0 63.9,106.0 68.1,106.0" fill="#1a1a1a"/>
<polygon points="66.0,302.6 63.9,296.6 68.1,296.6" fill="#1a1a1a"/>
<rect x="61.099999999999994" y="153.7" width="10" height="89.69999999999999" fill="#fff"/>
<text x="63.26199999999999" y="154.5" font-family="Liberation Serif" font-size="8.6" fill="#1a1a1a" stroke="#1a1a1a" stroke-width="0.18" text-anchor="start" textLength="88.1" lengthAdjust="spacingAndGlyphs" transform="rotate(90 63.26199999999999 154.5)" >24±0.2 (Panel Size)</text>
<line x1="78.5" y1="100" x2="78.5" y2="269.6" stroke="#1a1a1a" stroke-width="1.1" />
<polygon points="78.5,100.0 76.4,106.0 80.6,106.0" fill="#1a1a1a"/>
<polygon points="78.5,269.6 76.4,263.6 80.6,263.6" fill="#1a1a1a"/>
<rect x="73.2" y="143.2" width="10" height="84.9" fill="#fff"/>
<text x="75.36200000000001" y="144" font-family="Liberation Serif" font-size="8.6" fill="#1a1a1a" stroke="#1a1a1a" stroke-width="0.18" text-anchor="start" textLength="83.3" lengthAdjust="spacingAndGlyphs" transform="rotate(90 75.36200000000001 144)" >20.1±0.2 (Cap Size)</text>
<polygon points="91.3,260.3 89.2,254.3 93.4,254.3" fill="#1a1a1a"/>
<rect x="86.2" y="154.6" width="10" height="59.1" fill="#fff"/>
<text x="88.36200000000001" y="155.4" font-family="Liberation Serif" font-size="8.6" fill="#1a1a1a" stroke="#1a1a1a" stroke-width="0.18" text-anchor="start" textLength="57.5" lengthAdjust="spacingAndGlyphs" transform="rotate(90 88.36200000000001 155.4)" >18 (Polarizer)</text>
<polygon points="103.7,244.7 101.6,238.7 105.8,238.7" fill="#1a1a1a"/>
<rect x="98.5" y="157.5" width="10" height="43.79999999999999" fill="#fff"/>
<text x="100.662" y="158.3" font-family="Liberation Serif" font-size="8.6" fill="#1a1a1a" stroke="#1a1a1a" stroke-width="0.18" text-anchor="start" textLength="42.2" lengthAdjust="spacingAndGlyphs" transform="rotate(90 100.662 158.3)" >15.1 (V/A)</text>
<polygon points="116.6,236.0 114.5,230.0 118.7,230.0" fill="#1a1a1a"/>
<rect x="111.8" y="123.0" width="10" height="112.8" fill="#fff"/>
<text x="113.962" y="123.8" font-family="Liberation Serif" font-size="8.6" fill="#1a1a1a" stroke="#1a1a1a" stroke-width="0.18" text-anchor="start" textLength="111.2" lengthAdjust="spacingAndGlyphs" transform="rotate(90 113.962 123.8)" >P0.41x32-0.02=13.1 (A/A)</text>
<line x1="65.5" y1="302.6" x2="65.5" y2="606.4" stroke="#1a1a1a" stroke-width="1.1" />
<polygon points="65.5,302.6 63.4,308.6 67.6,308.6" fill="#1a1a1a"/>
<polygon points="65.5,606.4 63.4,600.4 67.6,600.4" fill="#1a1a1a"/>
<rect x="60.5" y="439.7" width="10" height="28.400000000000013" fill="#fff"/>
<text x="62.662" y="440.5" font-family="Liberation Serif" font-size="8.6" fill="#1a1a1a" stroke="#1a1a1a" stroke-width="0.18" text-anchor="start" textLength="26.8" lengthAdjust="spacingAndGlyphs" transform="rotate(90 62.662 440.5)" >36±0.5</text>
<line x1="75" y1="395.4" x2="367.6" y2="395.4" stroke="#1a1a1a" stroke-width="1.1" />
<line x1="78.3" y1="395.4" x2="78.3" y2="606.4" stroke="#1a1a1a" stroke-width="1.1" />
<polygon points="78.3,395.4 76.2,401.4 80.4,401.4" fill="#1a1a1a"/>
<polygon points="78.3,606.4 76.2,600.4 80.4,600.4" fill="#1a1a1a"/>
<rect x="73.3" y="486.9" width="10" height="27.900000000000013" fill="#fff"/>
<text x="75.462" y="487.7" font-family="Liberation Serif" font-size="8.6" fill="#1a1a1a" stroke="#1a1a1a" stroke-width="0.18" text-anchor="start" textLength="26.3" lengthAdjust="spacingAndGlyphs" transform="rotate(90 75.462 487.7)" >25±0.3</text>
<line x1="49" y1="606.6" x2="352" y2="606.6" stroke="#1a1a1a" stroke-width="1.1" />
<line x1="87.3" y1="556" x2="359.6" y2="556" stroke="#1a1a1a" stroke-width="1.1" />
<line x1="91.1" y1="556" x2="91.1" y2="606.6" stroke="#1a1a1a" stroke-width="1.1" />
<polygon points="91.1,556.0 89.0,562.0 93.2,562.0" fill="#1a1a1a"/>
<polygon points="91.1,606.6 89.0,600.6 93.2,600.6" fill="#1a1a1a"/>
<rect x="86.1" y="568.6" width="10" height="24.6" fill="#fff"/>
<text x="88.262" y="569.4" font-family="Liberation Serif" font-size="8.6" fill="#1a1a1a" stroke="#1a1a1a" stroke-width="0.18" text-anchor="start" textLength="23.0" lengthAdjust="spacingAndGlyphs" transform="rotate(90 88.262 569.4)" >6±0.3</text>
<line x1="105" y1="581.2" x2="352" y2="581.2" stroke="#1a1a1a" stroke-width="1.1" />
<line x1="103.9" y1="568" x2="103.9" y2="619" stroke="#1a1a1a" stroke-width="1.1" />
<polygon points="103.9,581.2 101.8,575.2 106.0,575.2" fill="#1a1a1a"/>
<polygon points="103.9,606.6 101.8,612.6 106.0,612.6" fill="#1a1a1a"/>
<rect x="98.9" y="582.6" width="10" height="23.200000000000024" fill="#fff"/>
<text x="101.06200000000001" y="583.4" font-family="Liberation Serif" font-size="8.6" fill="#1a1a1a" stroke="#1a1a1a" stroke-width="0.18" text-anchor="start" textLength="21.6" lengthAdjust="spacingAndGlyphs" transform="rotate(90 101.06200000000001 583.4)" >3±0.3</text>
<line x1="142.2" y1="306" x2="142.2" y2="661" stroke="#1a1a1a" stroke-width="1.1" />
<line x1="367.6" y1="395.4" x2="439.2" y2="395.4" stroke="#1a1a1a" stroke-width="1.1" />
<circle cx="367.6" cy="395.4" r="3.3" fill="none" stroke="#30308a" stroke-width="1.2"/>
<circle cx="439.2" cy="395.4" r="3.3" fill="none" stroke="#30308a" stroke-width="1.2"/>
<polygon points="370.9,395.4 376.9,393.3 376.9,397.5" fill="#1a1a1a"/>
<polygon points="435.9,395.4 429.9,393.3 429.9,397.5" fill="#1a1a1a"/>
<rect x="387.4" y="390.4" width="30.200000000000024" height="10" fill="#fff"/>
<text x="388.2" y="398.59999999999997" font-family="Liberation Serif" font-size="9.5" fill="#1a1a1a" stroke="#1a1a1a" stroke-width="0.18" text-anchor="start" textLength="28.6" lengthAdjust="spacingAndGlyphs" >8.5±0.1</text>
<path d="M441.2,397 L446,400.5 Q450,403.6 453,403.6 L459,403.6" fill="none" stroke="#222" stroke-width="1.2"/>
<text x="459.4" y="406.8" font-family="Liberation Serif" font-size="9.5" fill="#1a1a1a" stroke="#1a1a1a" stroke-width="0.18" text-anchor="start" textLength="49" lengthAdjust="spacingAndGlyphs" >2-R0.4±0.05</text>
<line x1="359.6" y1="556" x2="446.9" y2="556" stroke="#1a1a1a" stroke-width="1.1" />
<circle cx="359.6" cy="556" r="4.3" fill="none" stroke="#30308a" stroke-width="1.2"/>
<circle cx="446.9" cy="556" r="4.3" fill="none" stroke="#30308a" stroke-width="1.2"/>
<polygon points="363.9,556.0 369.9,553.9 369.9,558.1" fill="#1a1a1a"/>
<polygon points="442.6,556.0 436.6,553.9 436.6,558.1" fill="#1a1a1a"/>
<rect x="384.8" y="551" width="35.899999999999956" height="10" fill="#fff"/>
<text x="385.6" y="559.2" font-family="Liberation Serif" font-size="9.5" fill="#1a1a1a" stroke="#1a1a1a" stroke-width="0.18" text-anchor="start" textLength="34.3" lengthAdjust="spacingAndGlyphs" >10.4±0.1</text>
<path d="M450,559 L454,561.5 Q457.5,563.6 460.6,563.6 L467.5,563.6" fill="none" stroke="#222" stroke-width="1.2"/>
<text x="468.3" y="567.3" font-family="Liberation Serif" font-size="9.5" fill="#1a1a1a" stroke="#1a1a1a" stroke-width="0.18" text-anchor="start" textLength="49.2" lengthAdjust="spacingAndGlyphs" >2-R0.5±0.05</text>
<line x1="350.5" y1="607" x2="350.5" y2="661" stroke="#1a1a1a" stroke-width="1.1" />
<line x1="354.5" y1="607" x2="354.5" y2="650" stroke="#1a1a1a" stroke-width="1.1" />
<line x1="358.3" y1="607" x2="358.3" y2="637" stroke="#1a1a1a" stroke-width="1.1" />
<line x1="360.6" y1="607" x2="360.6" y2="637" stroke="#1a1a1a" stroke-width="1.1" />
<line x1="452.6" y1="607" x2="452.6" y2="650" stroke="#1a1a1a" stroke-width="1.1" />
<line x1="455.7" y1="607" x2="455.7" y2="661" stroke="#1a1a1a" stroke-width="1.1" />
<line x1="345" y1="633.2" x2="358.3" y2="633.2" stroke="#1a1a1a" stroke-width="1.1" />
<polygon points="358.3,633.2 352.3,631.1 352.3,635.3" fill="#1a1a1a"/>
<line x1="360.6" y1="633.2" x2="372" y2="633.2" stroke="#1a1a1a" stroke-width="1.1" />
<polygon points="360.6,633.2 366.6,631.1 366.6,635.3" fill="#1a1a1a"/>
<text x="374" y="636.5" font-family="Liberation Serif" font-size="9.5" fill="#1a1a1a" stroke="#1a1a1a" stroke-width="0.18" text-anchor="start" textLength="53" lengthAdjust="spacingAndGlyphs" >W=0.35±0.03</text>
<line x1="339" y1="645.4" x2="350.5" y2="645.4" stroke="#1a1a1a" stroke-width="1.1" />
<polygon points="350.5,645.4 344.5,643.3 344.5,647.5" fill="#1a1a1a"/>
<line x1="354.5" y1="645.4" x2="452.6" y2="645.4" stroke="#1a1a1a" stroke-width="1.1" />
<polygon points="354.5,645.4 360.5,643.3 360.5,647.5" fill="#1a1a1a"/>
<polygon points="452.6,645.4 446.6,643.3 446.6,647.5" fill="#1a1a1a"/>
<rect x="306.8" y="640.3" width="31.199999999999967" height="10" fill="#fff"/>
<text x="307.6" y="648.5" font-family="Liberation Serif" font-size="9.5" fill="#1a1a1a" stroke="#1a1a1a" stroke-width="0.18" text-anchor="start" textLength="29.6" lengthAdjust="spacingAndGlyphs" >0.5±0.1</text>
<rect x="365.0" y="640.4" width="76.1" height="10" fill="#fff"/>
<text x="365.8" y="648.6" font-family="Liberation Serif" font-size="8.5" fill="#1a1a1a" stroke="#1a1a1a" stroke-width="0.18" text-anchor="start" textLength="74.5" lengthAdjust="spacingAndGlyphs" >P0.50x(24-1)=11.5±0.05</text>
<line x1="350.5" y1="658.2" x2="455.7" y2="658.2" stroke="#1a1a1a" stroke-width="1.1" />
<polygon points="350.5,658.2 356.5,656.1 356.5,660.3" fill="#1a1a1a"/>
<polygon points="455.7,658.2 449.7,656.1 449.7,660.3" fill="#1a1a1a"/>
<rect x="384.2" y="653.2" width="36.6" height="10" fill="#fff"/>
<text x="385" y="661.4000000000001" font-family="Liberation Serif" font-size="9.5" fill="#1a1a1a" stroke="#1a1a1a" stroke-width="0.18" text-anchor="start" textLength="35" lengthAdjust="spacingAndGlyphs" >12.5±0.2</text>
<line x1="142.2" y1="658.2" x2="350.5" y2="658.2" stroke="#1a1a1a" stroke-width="1.1" />
<polygon points="142.2,658.2 148.2,656.1 148.2,660.3" fill="#1a1a1a"/>
<polygon points="350.5,658.2 344.5,656.1 344.5,660.3" fill="#1a1a1a"/>
<rect x="230.39999999999998" y="653.2" width="31.1" height="10" fill="#fff"/>
<text x="231.2" y="661.4000000000001" font-family="Liberation Serif" font-size="9.5" fill="#1a1a1a" stroke="#1a1a1a" stroke-width="0.18" text-anchor="start" textLength="29.5" lengthAdjust="spacingAndGlyphs" >(24.75)</text>
<line x1="53.5" y1="725.6" x2="88.2" y2="725.6" stroke="#1a1a1a" stroke-width="1.1" />
<line x1="53.5" y1="745.8" x2="96" y2="745.8" stroke="#1a1a1a" stroke-width="1.1" />
<line x1="58.5" y1="717.5" x2="58.5" y2="745.8" stroke="#1a1a1a" stroke-width="1.1" />
<polygon points="58.5,725.6 56.4,731.6 60.6,731.6" fill="#1a1a1a"/>
<polygon points="58.5,745.8 56.4,739.8 60.6,739.8" fill="#1a1a1a"/>
<rect x="53.5" y="691.1" width="10" height="27.600000000000023" fill="#fff"/>
<text x="62.295" y="717.2" font-family="Liberation Serif" font-size="11.5" fill="#1a1a1a" stroke="#1a1a1a" stroke-width="0.18" text-anchor="start" textLength="24.6" lengthAdjust="spacingAndGlyphs" transform="rotate(-90 62.295 717.2)" >2±0.1</text>
<line x1="96" y1="745.2" x2="180.6" y2="745.2" stroke="#b4ecf4" stroke-width="3.0" />
<line x1="97" y1="744.0" x2="180.6" y2="744.0" stroke="#6a9aa8" stroke-width="0.9" />
<line x1="180.6" y1="745.2" x2="286" y2="745.2" stroke="#efc4ef" stroke-width="3.0" />
<line x1="180.6" y1="744.0" x2="286" y2="744.0" stroke="#9a7aa4" stroke-width="0.9" />
<rect x="93.3" y="725.6" width="202.39999999999998" height="10.899999999999977" stroke="#2a2a2a" fill="none" stroke-width="1.1" />
<line x1="93.3" y1="736.5" x2="93.3" y2="743.8" stroke="#1a1a1a" stroke-width="1.1" />
<line x1="93.3" y1="736.5" x2="337" y2="736.5" stroke="#1a1a1a" stroke-width="1.5" />
<line x1="286" y1="743.9" x2="335" y2="743.9" stroke="#4a3f5a" stroke-width="1.3" />
<path d="M295.7,725.6 L335,736.3" fill="none" stroke="#333" stroke-width="1"/>
<path d="M305.4,736.3 L305.4,733 Q305.4,731.4 307,731.4 L316.5,731.4 Q318,731.4 318,733 L318,736.3" fill="#fff" stroke="#333" stroke-width="0.9"/>
<line x1="335" y1="736.3" x2="652.4" y2="736.3" stroke="#edc894" stroke-width="2.4" />
<line x1="652.4" y1="736.3" x2="699.8" y2="736.3" stroke="#f3e68e" stroke-width="3.4" />
<path d="M332,736.3 L340,736.3 L335.5,743.9 Z" fill="#d9a888" stroke="none"/>
<text x="307.8" y="722.4" font-family="Liberation Serif" font-size="10.5" fill="#1a1a1a" stroke="#1a1a1a" stroke-width="0.2" text-anchor="start" textLength="23.2" lengthAdjust="spacingAndGlyphs" >Glue</text>
<path d="M302.5,714.8 Q300.6,717 300.9,720 L300.9,726.5" fill="none" stroke="#222" stroke-width="1"/>
<polygon points="300.9,726.8 299.3,721.8 302.5,721.8" fill="#1a1a1a"/>
<path d="M336.5,720.2 Q338.6,721.5 338.6,724 L338.6,734" fill="none" stroke="#222" stroke-width="1"/>
<polygon points="338.6,734.8 337.0,729.8 340.2,729.8" fill="#1a1a1a"/>
<path d="M143.4,746 Q140,760 136,770 L132,770" fill="none" stroke="#222" stroke-width="0.9"/>
<text x="63.7" y="768.3" font-family="Liberation Serif" font-size="11.5" fill="#1a1a1a" stroke="#1a1a1a" stroke-width="0.18" text-anchor="start" textLength="65.3" lengthAdjust="spacingAndGlyphs" >Remove Tape</text>
<text x="55.5" y="782" font-family="Liberation Serif" font-size="11.5" fill="#1a1a1a" stroke="#1a1a1a" stroke-width="0.18" text-anchor="start" textLength="72.5" lengthAdjust="spacingAndGlyphs" >t=0.15mm Max</text>
<path d="M234.2,744 Q232,757 229.6,769.2 L223.5,769.2" fill="none" stroke="#222" stroke-width="1"/>
<text x="176.6" y="767.4" font-family="Liberation Serif" font-size="11.5" fill="#1a1a1a" stroke="#1a1a1a" stroke-width="0.18" text-anchor="start" textLength="43.8" lengthAdjust="spacingAndGlyphs" >Polarizer</text>
<text x="176" y="779.7" font-family="Liberation Serif" font-size="11.5" fill="#1a1a1a" stroke="#1a1a1a" stroke-width="0.18" text-anchor="start" textLength="43.5" lengthAdjust="spacingAndGlyphs" >t=0.2mm</text>
<path d="M335.8,744 Q340,756 343.5,766.6 L347.5,766.6" fill="none" stroke="#222" stroke-width="0.9"/>
<text x="348.6" y="767.5" font-family="Liberation Serif" font-size="11.5" fill="#1a1a1a" stroke="#1a1a1a" stroke-width="0.18" text-anchor="start" textLength="76" lengthAdjust="spacingAndGlyphs" >Protective Tape</text>
<text x="348.6" y="781" font-family="Liberation Serif" font-size="11.5" fill="#1a1a1a" stroke="#1a1a1a" stroke-width="0.18" text-anchor="start" textLength="67" lengthAdjust="spacingAndGlyphs" >15x8x0.05mm</text>
<text x="556" y="706" font-family="Liberation Serif" font-size="11.5" fill="#1a1a1a" stroke="#1a1a1a" stroke-width="0.18" text-anchor="start" textLength="88" lengthAdjust="spacingAndGlyphs" >4.5±0.5 (Stiffener)</text>
<line x1="645" y1="702.8" x2="699.8" y2="702.8" stroke="#1a1a1a" stroke-width="1.1" />
<polygon points="652.4,702.8 658.4,700.7 658.4,704.9" fill="#1a1a1a"/>
<polygon points="699.8,702.8 693.8,700.7 693.8,704.9" fill="#1a1a1a"/>
<line x1="652.4" y1="699" x2="652.4" y2="729" stroke="#1a1a1a" stroke-width="1.1" />
<line x1="699.8" y1="699" x2="699.8" y2="729" stroke="#1a1a1a" stroke-width="1.1" />
<path d="M683.4,738 Q681,750 677,760 L671,761.5" fill="none" stroke="#222" stroke-width="0.9"/>
<text x="609" y="765" font-family="Liberation Serif" font-size="11.5" fill="#1a1a1a" stroke="#1a1a1a" stroke-width="0.18" text-anchor="start" textLength="59" lengthAdjust="spacingAndGlyphs" >Contact Side</text>
<line x1="704.5" y1="734.3" x2="734" y2="734.3" stroke="#1a1a1a" stroke-width="1.1" />
<line x1="704.5" y1="737.6" x2="734" y2="737.6" stroke="#1a1a1a" stroke-width="1.1" />
<line x1="729.3" y1="718" x2="729.3" y2="751" stroke="#1a1a1a" stroke-width="1.1" />
<polygon points="729.3,734.3 727.2,728.3 731.4,728.3" fill="#1a1a1a"/>
<polygon points="729.3,737.6 727.2,743.6 731.4,743.6" fill="#1a1a1a"/>
<rect x="724.3" y="675.5" width="10" height="43.39999999999998" fill="#fff"/>
<text x="732.765" y="717.4" font-family="Liberation Serif" font-size="10.5" fill="#1a1a1a" stroke="#1a1a1a" stroke-width="0.18" text-anchor="start" textLength="40.4" lengthAdjust="spacingAndGlyphs" transform="rotate(-90 732.765 717.4)" >0.3±0.03</text></svg>
</body></html>
